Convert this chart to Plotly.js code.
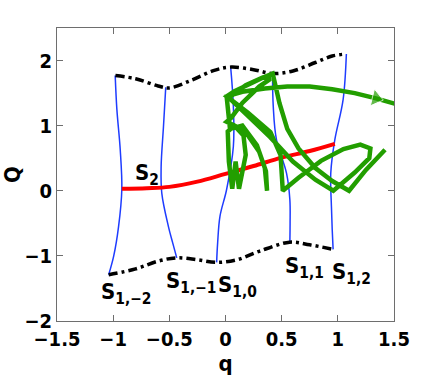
<!DOCTYPE html>
<html>
<head>
<meta charset="utf-8">
<script src="https://cdn.plot.ly/plotly-3.0.1.min.js"></script>
<style>
  body { margin: 0; background: #fff; }
  #myDiv { width: 436px; height: 382px; }
</style>
</head>
<body>
<div id="myDiv"></div>
<script>
// boundary curves (dash-dot, black)
var topQ = [-0.98, -0.8, -0.6, -0.5, -0.3, -0.1, 0.05, 0.25, 0.42, 0.6, 0.8, 0.95, 1.07];
var topP = [1.77, 1.72, 1.61, 1.58, 1.70, 1.85, 1.90, 1.86, 1.80, 1.84, 1.97, 2.07, 2.10];
var botQ = [-1.04, -0.8, -0.6, -0.43, -0.25, -0.08, 0.1, 0.3, 0.57, 0.75, 0.96];
var botP = [-1.29, -1.2, -1.08, -1.03, -1.06, -1.10, -1.06, -0.93, -0.79, -0.83, -0.90];

// blue sections S1,k (bottom to top)
var s1m2Q = [-1.04, -0.995, -0.952, -0.923, -0.937, -0.967, -0.982];
var s1m2P = [-1.29, -1.0, -0.55, 0.02, 0.63, 1.25, 1.77];
var s1m1Q = [-0.434, -0.47, -0.508, -0.567, -0.573, -0.552, -0.532];
var s1m1P = [-1.03, -0.8, -0.55, -0.04, 0.37, 0.99, 1.59];
var s10Q = [-0.079, -0.07, -0.049, 0.01, 0.07, 0.07, 0.046];
var s10P = [-1.10, -0.8, -0.39, 0.02, 0.68, 1.30, 1.90];
var s11Q = [0.573, 0.575, 0.573, 0.543, 0.454, 0.425, 0.419];
var s11P = [-0.79, -0.5, -0.14, 0.27, 0.78, 1.30, 1.80];
var s12Q = [0.958, 0.95, 0.943, 0.937, 0.973, 1.047, 1.076];
var s12P = [-0.90, -0.6, -0.24, 0.27, 0.78, 1.40, 2.10];

// red section S2
var s2Q = [-0.923, -0.7, -0.5, -0.25, 0, 0.25, 0.5, 0.75, 0.973];
var s2P = [0.03, 0.04, 0.06, 0.14, 0.26, 0.38, 0.51, 0.61, 0.72];

// green trajectory
var trajQ = [1.42, 1.25, 1.10, 0.95, 0.80, 0.65, 0.55, 0.48, 0.44, 0.42, 0.35, 0.22, 0.08, 0.01,
  0.20, 0.40, 0.49, 0.51, 0.65, 0.85, 1.05, 1.20, 1.29, 1.28, 1.15, 0.96, 0.80, 0.60, 0.40, 0.20, 0.03,
  0.18, 0.33, 0.40, 0.30, 0.15, 0.05, 0.01, 0.08, 0.16, 0.18, 0.12, 0.09, 0.06, 0.03, 0.02, 0.08,
  0.20, 0.30, 0.36, 0.37, 0.35, 0.28, 0.15, 0.04, 0.02, 0.01,
  0.15, 0.35, 0.55, 0.75, 0.95, 1.15, 1.34, 1.52];
var trajP = [0.63, 0.32, 0.00, 0.15, 0.35, 0.65, 0.95, 1.35, 1.65, 1.80, 1.75, 1.65, 1.53, 1.45,
  1.20, 0.90, 0.55, 0.00, 0.20, 0.46, 0.64, 0.71, 0.65, 0.50, 0.28, 0.00, 0.17, 0.45, 0.82, 1.15, 1.43,
  1.62, 1.74, 1.72, 1.60, 1.35, 1.12, 1.06, 1.00, 0.85, 0.55, 0.03, 0.45, 0.03, 0.45, 0.91, 1.00,
  0.85, 0.60, 0.30, 0.00, 0.35, 0.70, 1.00, 0.95, 1.20, 1.45,
  1.52, 1.57, 1.60, 1.60, 1.56, 1.50, 1.42, 1.33];
var arrowAt = trajQ.length - 2;

var labels = [
  {x: -1.13, y: -1.33, t: 'S<sub>1,\u22122</sub>'},
  {x: -0.547, y: -1.16, t: 'S<sub>1,\u22121</sub>'},
  {x: -0.085, y: -1.22, t: 'S<sub>1,0</sub>'},
  {x: 0.514, y: -0.92, t: 'S<sub>1,1</sub>'},
  {x: 0.934, y: -1.02, t: 'S<sub>1,2</sub>'},
  {x: -0.825, y: 0.50, t: 'S<sub>2</sub>'}
];

var fontFam = '"DejaVu Sans Condensed", "Liberation Sans Narrow", "Liberation Sans", sans-serif';
var blue = 'rgb(30,60,255)';

function blueLine(q, p) {
  return {x: q, y: p, mode: 'lines', line: {color: blue, width: 1.5, shape: 'spline'}, hoverinfo: 'skip'};
}
function dashLine(q, p) {
  return {x: q, y: p, mode: 'lines', line: {color: 'black', width: 3.5, dash: '9px,4px,3px,4px', shape: 'spline'}, hoverinfo: 'skip'};
}

var data = [
  blueLine(s1m2Q, s1m2P),
  blueLine(s1m1Q, s1m1P),
  blueLine(s10Q, s10P),
  blueLine(s11Q, s11P),
  blueLine(s12Q, s12P),
  dashLine(topQ, topP),
  dashLine(botQ, botP),
  {x: s2Q, y: s2P, mode: 'lines', line: {color: 'rgb(255,0,0)', width: 4, shape: 'spline'}, hoverinfo: 'skip'},
  {
    x: trajQ, y: trajP, mode: 'lines+markers',
    line: {color: 'rgb(34,158,0)', width: 4.5},
    marker: {
      symbol: 'triangle-up', angleref: 'previous', color: 'rgb(34,158,0)',
      size: trajQ.map(function (v, i) { return i === arrowAt ? 15 : 0; })
    },
    hoverinfo: 'skip'
  }
];

var axisBase = {
  showgrid: false, zeroline: false, showline: true, mirror: 'ticks',
  linecolor: 'rgb(110,110,110)', linewidth: 1,
  ticks: 'inside', ticklen: 6, tickcolor: 'rgb(110,110,110)',
  tickfont: {family: fontFam, size: 20, color: 'black', weight: 'bold'}
};

var layout = {
  width: 436, height: 382,
  margin: {l: 57, r: 42, t: 28, b: 61},
  paper_bgcolor: 'white', plot_bgcolor: 'white',
  showlegend: false,
  xaxis: Object.assign({}, axisBase, {
    range: [-1.5, 1.5], tickvals: [-1.5, -1, -0.5, 0, 0.5, 1, 1.5],
    title: {text: 'q', font: {family: fontFam, size: 22, color: 'black', weight: 'bold'}, standoff: 0}
  }),
  yaxis: Object.assign({}, axisBase, {
    range: [-2, 2.5], tickvals: [-2, -1, 0, 1, 2],
    title: {text: 'Q', font: {family: fontFam, size: 22, color: 'black', weight: 'bold'}, standoff: 4}
  }),
  annotations: labels.map(function (l) {
    return {x: l.x, y: l.y, text: l.t, showarrow: false, xanchor: 'left', yanchor: 'top',
      font: {family: fontFam, size: 22, color: 'black', weight: 'bold'}};
  })
};

Plotly.newPlot('myDiv', data, layout, {displayModeBar: false, staticPlot: true});
</script>
</body>
</html>
